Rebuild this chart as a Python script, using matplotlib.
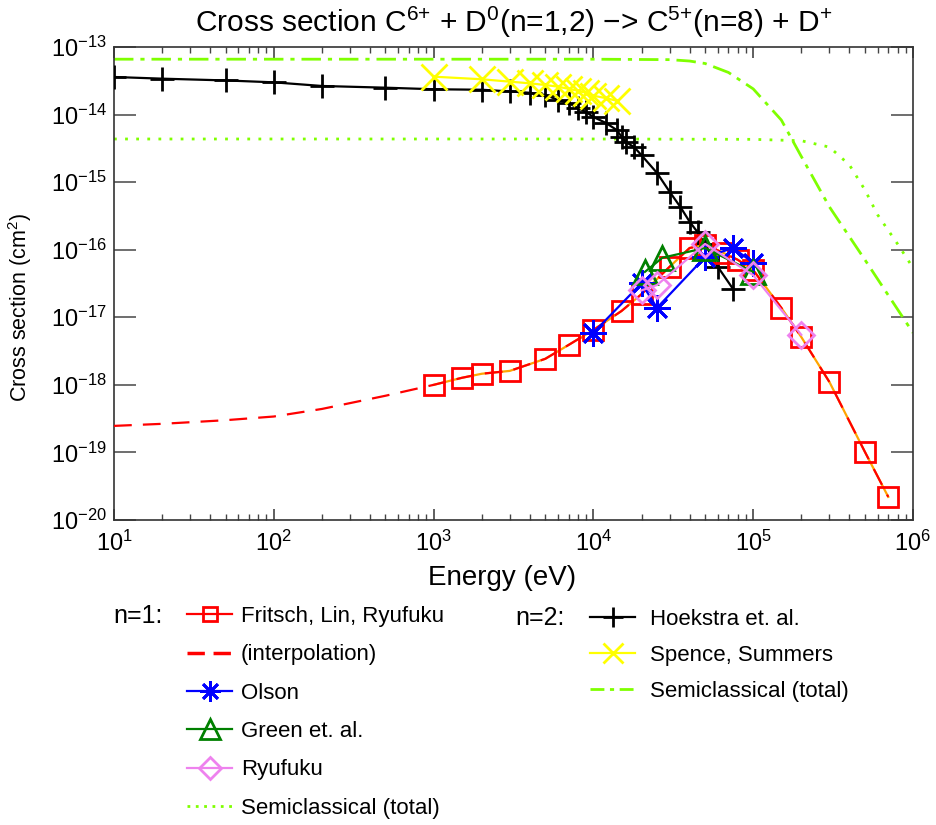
import matplotlib
matplotlib.use("Agg")
import matplotlib.pyplot as plt
from matplotlib.lines import Line2D
from matplotlib import font_manager
import matplotlib.ticker as mticker

avail = {f.name for f in font_manager.fontManager.ttflist}
fam = [f for f in ["Liberation Sans Narrow", "Liberation Sans", "DejaVu Sans"] if f in avail]
plt.rcParams["font.family"] = fam
plt.rcParams["mathtext.default"] = "regular"

# ---------------- data ----------------
# n=1 : Fritsch, Lin, Ryufuku
fritsch_E = [1000, 1500, 2000, 3000, 5000, 7000, 10000, 15000, 20000, 30000, 40000,
             50000, 65000, 80000, 100000, 150000, 200000, 300000, 500000, 700000]
fritsch_s = [1.0e-18, 1.27e-18, 1.46e-18, 1.61e-18, 2.43e-18, 3.9e-18, 6.5e-18, 1.24e-17,
             2.2e-17, 5.6e-17, 1.06e-16, 1.18e-16, 9.0e-17, 7.1e-17, 5.0e-17, 1.38e-17,
             5.1e-18, 1.1e-18, 1.02e-19, 2.2e-20]
# n=1 : interpolation (low energy extension)
interp_E = [10, 20, 50, 100, 200, 500, 1000]
interp_s = [2.47e-19, 2.65e-19, 3.0e-19, 3.4e-19, 4.4e-19, 6.9e-19, 1.0e-18]
# n=1 : Olson
olson_E = [10000, 20000, 25000, 50000, 75000, 100000]
olson_s = [5.9e-18, 3.2e-17, 1.38e-17, 7.8e-17, 1.06e-16, 6.4e-17]
# n=1 : Green et al.
green_E = [21000, 27000, 50000, 100000]
green_s = [4.7e-17, 7.6e-17, 1.06e-16, 4.7e-17]
# n=1 : Ryufuku
ryu_E = [20000, 25000, 50000, 100000, 200000]
ryu_s = [2.5e-17, 3.0e-17, 1.22e-16, 4.2e-17, 5.5e-18]
# n=1 : semiclassical (total)
sc1_E = [10, 1e4, 1e5, 2e5, 3e5, 4e5, 5e5, 6e5, 8e5, 1e6]
sc1_s = [4.35e-15, 4.35e-15, 4.3e-15, 4.1e-15, 3.3e-15, 1.8e-15, 7.7e-16, 3.3e-16,
         1.22e-16, 5.4e-17]

# n=2 : Hoekstra et al.
hoek_E = [10, 20, 50, 100, 200, 500, 1000, 2000, 3000, 4000, 5000, 6000, 7000, 8000,
          9000, 10000, 12000, 14000, 15000, 16000, 18000, 20000, 25000, 30000, 35000,
          40000, 45000, 50000, 60000, 75000]
hoek_s = [3.6e-14, 3.4e-14, 3.2e-14, 3.0e-14, 2.65e-14, 2.5e-14, 2.37e-14, 2.33e-14,
          2.2e-14, 2.1e-14, 1.95e-14, 1.65e-14, 1.48e-14, 1.25e-14, 1.09e-14, 9.2e-15,
          7.5e-15, 5.9e-15, 4.7e-15, 3.9e-15, 3.3e-15, 2.5e-15, 1.37e-15, 7.2e-16,
          4.3e-16, 2.6e-16, 1.8e-16, 1.2e-16, 5.6e-17, 2.6e-17]
# n=2 : Spence, Summers
spence_E = [1000, 2000, 3000, 4000, 5000, 6000, 7000, 8000, 9000, 10000, 12000, 14000]
spence_s = [3.64e-14, 3.33e-14, 3.07e-14, 2.9e-14, 2.74e-14, 2.59e-14, 2.4e-14, 2.25e-14,
            2.1e-14, 1.9e-14, 1.75e-14, 1.6e-14]
# n=2 : semiclassical (total)
sc2_E = [10, 1e4, 3e4, 4e4, 5e4, 7e4, 1e5, 1.5e5, 2e5, 3e5, 5e5, 1e6]
sc2_s = [6.6e-14, 6.6e-14, 6.5e-14, 6.2e-14, 5.7e-14, 4.2e-14, 2.4e-14, 8.3e-15, 2.4e-15,
         4.3e-16, 7.1e-17, 5.9e-18]

# axis ticks
x_ticks = [1e1, 1e2, 1e3, 1e4, 1e5, 1e6]
y_ticks = [1e-20, 1e-19, 1e-18, 1e-17, 1e-16, 1e-15, 1e-14, 1e-13]

# ---------------- figure ----------------
fig = plt.figure(figsize=(9.37, 8.25), dpi=100)
ax = fig.add_axes([114/937, 1-520/825, (913-114)/937, (520-47)/825])

LG = "#7FFF00"
lw = 1.6
ax.plot(sc2_E, sc2_s, color=LG, ls=(0, (7, 2.5, 1.5, 2.5)), lw=2.0, zorder=2)
ax.plot(sc1_E, sc1_s, color=LG, ls=(0, (1, 3)), lw=2.0, zorder=2)

ax.plot(hoek_E, hoek_s, color="black", lw=lw, marker="+", ms=17, mew=2.0, zorder=3)
ax.plot(spence_E, spence_s, color="yellow", lw=lw, marker="x", ms=19, mew=2.0, zorder=3)

ax.plot(fritsch_E, fritsch_s, color="orange", lw=lw, marker="s", ms=14, mfc="none",
        mec="red", mew=2.0, zorder=4)
ax.plot(interp_E + fritsch_E[1:], interp_s + fritsch_s[1:], color="red", lw=lw,
        ls=(0, (8, 5)), zorder=4)
ax.plot(olson_E, olson_s, color="blue", lw=lw, marker=(8, 2, 0), ms=19, mew=2.0, zorder=5)
ax.plot(green_E, green_s, color="green", lw=lw, marker="^", ms=17, mfc="none", mew=2.0,
        zorder=5)
ax.plot(ryu_E, ryu_s, color="violet", lw=lw, marker="D", ms=13, mfc="none", mew=2.0,
        zorder=5)

ax.set_xscale("log")
ax.set_yscale("log")
ax.set_xlim(10, 1e6)
ax.set_ylim(1e-20, 1e-13)

TS = 17
ax.yaxis.set_major_locator(mticker.FixedLocator(y_ticks))
ax.yaxis.set_major_formatter(mticker.LogFormatterSciNotation())
ax.yaxis.set_minor_locator(mticker.NullLocator())
ax.xaxis.set_major_locator(mticker.FixedLocator(x_ticks))
ax.xaxis.set_major_formatter(mticker.LogFormatterSciNotation())
ax.xaxis.set_minor_locator(mticker.LogLocator(base=10, subs=range(2, 10), numticks=20))
ax.xaxis.set_minor_formatter(mticker.NullFormatter())
ax.tick_params(axis="x", which="major", direction="in", length=8, width=1.2, top=True,
               labelsize=TS, pad=8, color="#444444")
ax.tick_params(axis="x", which="minor", direction="in", length=4, width=1.0, top=True,
               color="#444444")
ax.tick_params(axis="y", which="major", direction="in", length=16, width=1.2, right=True,
               labelsize=TS, pad=5, color="#555555")
for s in ax.spines.values():
    s.set_linewidth(1.2)
    s.set_color("#333333")

ax.set_xlabel("Energy (eV)", fontsize=20)
ax.xaxis.set_label_coords((502-114)/799, -0.095)
ax.set_ylabel("Cross section (cm$^{2}$)", fontsize=15.5)
ax.yaxis.set_label_coords(-0.1, 0.45)
ax.set_title("Cross section C$^{6{+}}$ + D$^{0}$(n=1,2) \u2212> C$^{5{+}}$(n=8) + D$^{+}$",
             fontsize=21.5, pad=11)

# ---------------- legends ----------------
LS = 16
h1 = [
    Line2D([], [], color="red", lw=lw, marker="s", ms=10, mfc="none", mec="red", mew=2),
    Line2D([], [], color="red", lw=2.5, ls=(0, (5, 2.5))),
    Line2D([], [], color="blue", lw=lw, marker=(8, 2, 0), ms=15, mew=2),
    Line2D([], [], color="green", lw=lw, marker="^", ms=14, mfc="none", mew=2),
    Line2D([], [], color="violet", lw=lw, marker="D", ms=11, mfc="none", mew=2),
    Line2D([], [], color=LG, lw=2.0, ls=(0, (1, 2))),
]
l1 = ["Fritsch, Lin, Ryufuku", "(interpolation)", "Olson", "Green et. al.", "Ryufuku",
      "Semiclassical (total)"]
h2 = [
    Line2D([], [], color="black", lw=lw, marker="+", ms=15, mew=2),
    Line2D([], [], color="yellow", lw=lw, marker="x", ms=14, mew=2),
    Line2D([], [], color=LG, lw=2.0, ls=(0, (5, 2, 1.5, 2))),
]
l2 = ["Hoekstra et. al.", "Spence, Summers", "Semiclassical (total)"]

leg1 = fig.legend(h1, l1, loc="upper left", bbox_to_anchor=(187/937, 1-606/825),
                  frameon=False, fontsize=LS, handlelength=2.03, handletextpad=0.4,
                  labelspacing=0.78, borderpad=0, borderaxespad=0)
leg2 = fig.legend(h2, l2, loc="upper left", bbox_to_anchor=(590/937, 1-609/825),
                  frameon=False, fontsize=LS, handlelength=2.03, handletextpad=0.68,
                  labelspacing=0.68, borderpad=0, borderaxespad=0)
fig.text(113/937, 1-616/825, "n=1:", fontsize=18, va="center", ha="left")
fig.text(515/937, 1-618/825, "n=2:", fontsize=18, va="center", ha="left")

fig.savefig("out.png", dpi=100)
